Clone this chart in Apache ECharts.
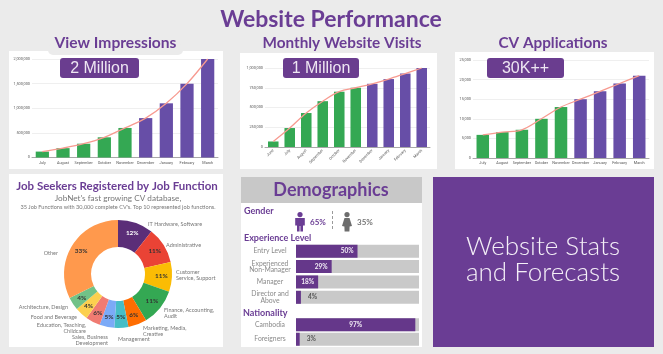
<!DOCTYPE html>
<html>
<head>
<meta charset="utf-8">
<style>html,body{margin:0;padding:0;background:#ebebeb}#main{width:663px;height:354px}</style>
<script src="https://cdn.jsdelivr.net/npm/echarts@6/dist/echarts.min.js"></script>
</head>
<body>
<div id="main"></div>
<script>
// three top charts
const impressionMonths = ['July','August','September','October','November','December','January','February','March']
const impressionValues = [120000,190000,280000,410000,600000,800000,1100000,1500000,2000000]
const visitMonths = ['June','July','August','September','October','November','December','January','February','March']
const visitValues = [70000,240000,430000,580000,700000,750000,800000,860000,930000,1000000]
const cvMonths = ['July','August','September','October','November','December','January','February','March']
const cvValues = [5900,6600,7200,10000,13000,15000,17000,19000,21000]

// job function donut
const jobNames = ['IT Hardware, Software','Administrative','Customer\nService, Support','Finance, Accounting,\nAudit','Marketing, Media,\nCreative','Management','Sales, Business\nDevelopment','Education, Teaching,\nChildcare','Food and Beverage','Architecture, Design','Other']
const jobShares = [10.6,10.8,8.9,11,5.6,4.2,4.4,4.4,3.9,3.9,32.3]
const jobLabels = ['12%','11%','11%','11%','6%','5%','5%','6%','4%','4%','33%']

// demographics
const genderShares = [65,35]
const experienceNames = ['Entry Level','Experienced\nNon-Manager','Manager','Director and\nAbove']
const experienceValues = [50,29,18,4]
const nationalityNames = ['Cambodia','Foreigners']
const nationalityValues = [97,3]

const PURPLE = '#6a3d94'
const BAR_PURPLE = '#674ea7'
const GREEN = '#34a853'
const jobColors = ['#5b2e78','#ea4335','#fbbc04','#34a853','#ff6d01','#46bdc6','#7baaf7','#f07b72','#fcd04f','#71c287','#ff994d']
const jobSpots = [[148,224],[166,245],[176,275],[164,313],[143,331],[118,339],[108,340],[86,328],[77,317],[68,307],[58,253]]

const FONT = 'Lato'
const chart = echarts.init(document.getElementById('main'))

function panel(x, y, w, h, fill) {
  return { type: 'rect', z: -5, shape: { x, y, width: w, height: h }, style: { fill: fill || '#fff' } }
}
function text(str, x, y, size, color, weight, align, family) {
  return {
    type: 'text', z: 20, x, y,
    style: { text: str, fontFamily: family || FONT, fontSize: size, fontWeight: weight || 'normal', fill: color, align: align || 'center', verticalAlign: 'middle', lineHeight: size * 1.18 }
  }
}
function badge(str, x, y, w, h) {
  return [
    { type: 'rect', z: 10, shape: { x, y, width: w, height: h, r: 3 }, style: { fill: '#6a3d8f' } },
    text(str, x + w / 2, y + h / 2 + 0.5, 16, '#eee6f2', 'normal', 'center', 'Liberation Sans')
  ]
}
function person(cx, top, color, dress) {
  const parts = [{ type: 'circle', z: 10, shape: { cx, cy: top + 2.6, r: 2.6 }, style: { fill: color } }]
  const pts = dress
    ? [[cx - 2.5, top + 6], [cx + 2.5, top + 6], [cx + 5, top + 14], [cx + 2.6, top + 14.5], [cx + 2.4, top + 19.5], [cx - 2.4, top + 19.5], [cx - 2.6, top + 14.5], [cx - 5, top + 14]]
    : [[cx - 4.8, top + 6], [cx + 4.8, top + 6], [cx + 4.8, top + 13.5], [cx + 3, top + 13.5], [cx + 3, top + 19.5], [cx + 0.4, top + 19.5], [cx + 0.4, top + 14], [cx - 0.4, top + 14], [cx - 0.4, top + 19.5], [cx - 3, top + 19.5], [cx - 3, top + 13.5], [cx - 4.8, top + 13.5]]
  parts.push({ type: 'polygon', z: 10, shape: { points: pts }, style: { fill: color } })
  return parts
}

const topCharts = [
  { months: impressionMonths, values: impressionValues, max: 2000000, step: 500000, left: 32, right: 218, top: 59, bottom: 157.5, rotate: 0 },
  { months: visitMonths, values: visitValues, max: 1000000, step: 250000, left: 265, right: 430, top: 68, bottom: 147, rotate: 45 },
  { months: cvMonths, values: cvValues, max: 25000, step: 5000, left: 473, right: 649, top: 60, bottom: 158, rotate: 0 }
]

const grids = [], xAxes = [], yAxes = [], series = []
topCharts.forEach((c, i) => {
  grids.push({ left: c.left, top: c.top, width: c.right - c.left, height: c.bottom - c.top })
  xAxes.push({
    type: 'category', gridIndex: i, data: c.months,
    axisTick: { show: false },
    axisLine: { lineStyle: { color: '#a8a8a8', width: 1 } },
    axisLabel: { fontSize: 3.8, color: '#555', margin: c.rotate ? 3 : 3.5, rotate: c.rotate, interval: 0, fontFamily: 'Roboto' }
  })
  yAxes.push({
    type: 'value', gridIndex: i, min: 0, max: c.max, interval: c.step,
    axisLine: { show: false }, axisTick: { show: false },
    splitLine: { lineStyle: { color: '#efefef', width: 1 } },
    axisLabel: { fontSize: 3.8, color: '#555', margin: 2, fontFamily: 'Roboto', formatter: v => v.toLocaleString('en-US') }
  })
  series.push({
    type: 'bar', xAxisIndex: i, yAxisIndex: i, barWidth: '64%', silent: true,
    data: c.values.map((v, k) => ({
      value: v,
      itemStyle: { color: ['December', 'January', 'February', 'March'].includes(c.months[k]) ? BAR_PURPLE : GREEN }
    }))
  })
  series.push({
    type: 'line', xAxisIndex: i, yAxisIndex: i, data: c.values, smooth: 0.35,
    showSymbol: false, z: 5, lineStyle: { color: '#f79a90', width: 1.3 }
  })
})

// demographics bars
const demoCharts = [
  { names: experienceNames, values: experienceValues, top: 243.5, height: 61.5, left: 296, right: 419 },
  { names: nationalityNames, values: nationalityValues, top: 317.5, height: 29, left: 296, right: 419 }
]
demoCharts.forEach((d, n) => {
  const i = topCharts.length + n
  grids.push({ left: d.left, top: d.top, width: d.right - d.left, height: d.height })
  xAxes.push({ type: 'value', gridIndex: i, min: 0, max: 100, show: false })
  yAxes.push({
    type: 'category', gridIndex: i, data: d.names, inverse: true,
    axisLine: { show: false }, axisTick: { show: false },
    axisLabel: { fontSize: 6.8, color: '#8a8a8a', align: 'center', margin: 26, lineHeight: 6.5, fontFamily: FONT, interval: 0 }
  })
  series.push({
    type: 'bar', xAxisIndex: i, yAxisIndex: i, barWidth: 13, silent: true,
    showBackground: true, backgroundStyle: { color: '#c9c9c9' },
    itemStyle: { color: '#65378a' },
    data: d.values.map(v => ({
      value: v,
      label: {
        show: true, formatter: '{c}%', fontFamily: FONT, fontWeight: 'bold', fontSize: 6.5,
        color: v < 10 ? '#555' : '#f3eef6',
        position: v < 10 ? 'right' : (v > 90 ? 'inside' : 'insideRight'),
        distance: v < 10 ? 7 : 4
      }
    }))
  })
})

// donut, slices plus the percent labels
series.push({
  type: 'pie', center: [118, 274], radius: [27, 54], startAngle: 90, silent: true, z: 3,
  color: jobColors,
  label: { show: true, position: 'inside', fontFamily: FONT, fontWeight: 'bold', fontSize: 6.4, color: '#333', formatter: p => jobLabels[p.dataIndex] },
  labelLine: { show: false },
  data: jobShares.map((v, k) => ({
    name: jobNames[k], value: v,
    label: (k === 0) ? { color: '#fff' } : {}
  }))
})
// same slices again, no fill, carries the outside names
series.push({
  type: 'pie', center: [118, 274], radius: [27, 54], startAngle: 90, silent: true, z: 4,
  itemStyle: { color: 'transparent' },
  label: { show: true, position: 'outside', overflow: 'none', fontFamily: FONT, fontSize: 5.5, color: '#777', lineHeight: 5.6, formatter: p => p.name },
  labelLine: { show: false },
  labelLayout: p => {
    const s = jobSpots[p.dataIndex]
    return { x: s[0], y: s[1], align: s[0] >= 118 ? 'left' : 'right', verticalAlign: 'middle' }
  },
  data: jobShares.map((v, k) => ({ name: jobNames[k], value: v }))
})

const graphic = [
  panel(9, 51, 214, 118),
  panel(240, 53, 197, 116),
  panel(455, 52, 199, 117),
  panel(9, 174, 214, 173),
  panel(241, 177, 181, 170),
  panel(241, 177, 181, 26, '#c8c8c8'),
  panel(433, 177, 221, 170, PURPLE),
  { type: 'rect', z: -4, shape: { x: 48, y: 44, width: 135, height: 11, r: 5 }, style: { fill: '#ebebeb' } },
  text('Website Performance', 331, 20, 23, PURPLE, 'bold'),
  text('View Impressions', 115.5, 43, 15.6, PURPLE, 'bold'),
  text('Monthly Website Visits', 342, 43, 15.3, PURPLE, 'bold'),
  text('CV Applications', 553, 43, 15.3, PURPLE, 'bold'),
  ...badge('2 Million', 60, 58, 79, 20),
  ...badge('1 Million', 283, 58, 76, 20),
  ...badge('30K++', 487, 58, 77, 20),
  text('Job Seekers Registered by Job Function', 117, 186, 11.5, PURPLE, 'bold'),
  text("JobNet's fast growing CV database,", 118, 198.5, 8.2, '#777'),
  text("35 Job Functions with 30,000 complete CV's. Top 10 represented job functions.", 118, 207, 5.6, '#777'),
  text('Demographics', 331, 190, 18, PURPLE, 'bold'),
  text('Gender', 244, 211, 9, PURPLE, 'bold', 'left'),
  text('Experience Level', 244, 238, 9, PURPLE, 'bold', 'left'),
  text('Nationality', 243, 313, 9, PURPLE, 'bold', 'left'),
  ...person(300, 212, PURPLE, false),
  ...person(347, 212, '#6d6d6d', true),
  text(genderShares[0] + '%', 310, 222.5, 8, PURPLE, 'bold', 'left'),
  text(genderShares[1] + '%', 357, 222.5, 8, '#777', 'bold', 'left'),
  { type: 'line', z: 10, shape: { x1: 332.5, y1: 211, x2: 332.5, y2: 231 }, style: { stroke: '#9a9a9a', lineWidth: 1, lineDash: [3, 2] } },
  text('Website Stats', 543, 247, 26, '#f4eff7', 300),
  text('and Forecasts', 543, 273, 26, '#f4eff7', 300)
]

chart.setOption({
  animation: false,
  backgroundColor: '#ebebeb',
  textStyle: { fontFamily: FONT },
  graphic: { elements: graphic },
  grid: grids,
  xAxis: xAxes,
  yAxis: yAxes,
  series: series
})
</script>
</body>
</html>
